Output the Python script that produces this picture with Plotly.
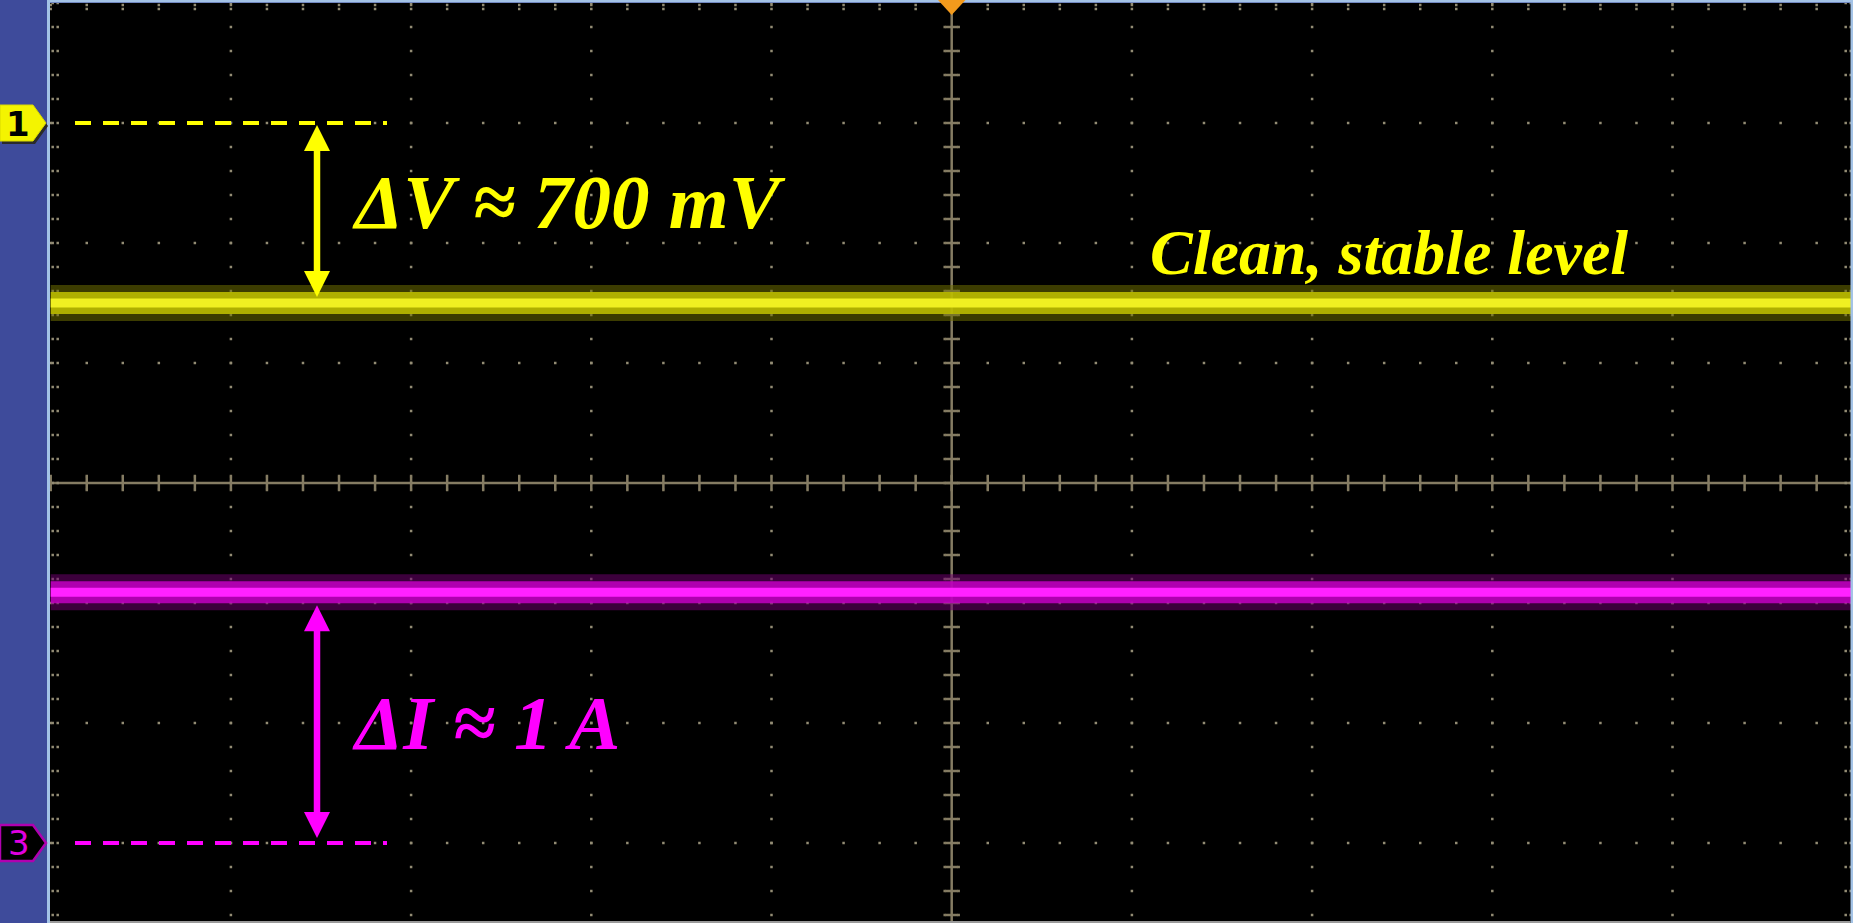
import numpy as np
import plotly.graph_objects as go

# ---------------- data (screen divisions, 8 x 10 graticule) ----------------
time_span_div = [-5.0, 5.0]          # horizontal extent of the acquisition
ch1_ground_div = 3.0                 # CH1 reference marker (dashed yellow)
ch1_level_div = [1.5, 1.5]           # CH1 voltage trace
ch3_ground_div = -3.0                # CH3 reference marker (dashed magenta)
ch3_level_div = [-0.91, -0.91]       # CH3 current trace
label_dv = "ΔV ≈ 700 mV"
label_di = "ΔI ≈ 1 A"
label_note = "Clean, stable level"
channel_tags = ["1", "3"]

# ---------------- geometry / style ----------------
W, H = 1853, 923
PX_X = 180.2          # px per horizontal division
PX_Y = 120.0          # px per vertical division
X0_PX, X1_PX = 50.0, 1853.0
Y_TOP_PX = 3.0
YR = [4.0 - (H - Y_TOP_PX) / PX_Y, 4.0]
XR = [-5.0 - 0.7 / PX_X, 5.0 + 0.3 / PX_X]

YEL = "#ffff00"
MAG = "#ff00ff"
GRID = "#938c74"
AXC = "#857c63"


def px(xp):
    return xp / W


def py(yp):
    return 1 - yp / H


fig = go.Figure()

# ---- graticule dots ----
xm = np.round(np.arange(-5, 5.0001, 0.2), 3)
ym = np.round(np.arange(-3.6, 4.0001, 0.2), 3)
gx, gy = [], []
for yl in [-3, -2, -1, 1, 2, 3]:
    gx += list(xm)
    gy += [yl] * len(xm)
for xl in [-4, -3, -2, -1, 1, 2, 3, 4]:
    gx += [xl] * len(ym)
    gy += list(ym)
# edge ticks
for off in (2, 7):
    gx += [-5 + off / PX_X] * len(ym) + [5 - off / PX_X] * len(ym)
    gy += list(ym) + list(ym)
for off in (2, 6):
    gx += list(xm)
    gy += [4 - off / PX_Y] * len(xm)
fig.add_trace(go.Scatter(x=gx, y=gy, mode="markers",
                         marker=dict(symbol="square", size=2.5, color=GRID, line=dict(width=0)),
                         hoverinfo="skip"))

# ---- centre crosshair ----
fig.add_shape(type="line", x0=XR[0], x1=XR[1], y0=0, y1=0, line=dict(color=AXC, width=2.5), layer="below")
fig.add_shape(type="line", x0=0, x1=0, y0=YR[0], y1=YR[1], line=dict(color=AXC, width=2.5), layer="below")
fig.add_trace(go.Scatter(x=xm, y=[0] * len(xm), mode="markers",
                         marker=dict(symbol="line-ns", size=9, line=dict(color=AXC, width=2.5)),
                         hoverinfo="skip"))
fig.add_trace(go.Scatter(x=list(xm) + list(xm), y=[7 / PX_Y] * len(xm) + [-7 / PX_Y] * len(xm),
                         mode="markers", marker=dict(symbol="square", size=2.5, color=AXC),
                         hoverinfo="skip"))
fig.add_trace(go.Scatter(x=[0] * len(ym), y=ym, mode="markers",
                         marker=dict(symbol="line-ew", size=9, line=dict(color=AXC, width=2.5)),
                         hoverinfo="skip"))
fig.add_trace(go.Scatter(x=[7 / PX_X] * len(ym) + [-7 / PX_X] * len(ym), y=list(ym) + list(ym),
                         mode="markers", marker=dict(symbol="square", size=2.5, color=AXC),
                         hoverinfo="skip"))

# ---- traces (thick phosphor bands) ----
for lvl, cols in ((ch1_level_div, ["rgba(110,110,0,0.55)", "rgba(195,195,0,0.85)", "#f0f022"]),
                  (ch3_level_div, ["rgba(110,0,110,0.55)", "rgba(195,0,195,0.85)", "#ff22ff"])):
    for w, c in zip([36, 22, 9], cols):
        fig.add_trace(go.Scatter(x=time_span_div, y=lvl, mode="lines",
                                 line=dict(color=c, width=w), hoverinfo="skip"))

# ---- dashed reference lines ----
dash_x = [-5 + (75 - X0_PX - 0.7) / PX_X, -5 + (387 - X0_PX - 0.7) / PX_X]
fig.add_trace(go.Scatter(x=dash_x, y=[ch1_ground_div] * 2, mode="lines",
                         line=dict(color=YEL, width=4, dash="16px,12px"), hoverinfo="skip"))
fig.add_trace(go.Scatter(x=dash_x, y=[ch3_ground_div] * 2, mode="lines",
                         line=dict(color=MAG, width=4, dash="16px,12px"), hoverinfo="skip"))


# ---- double arrows ----
def double_arrow(xa, y_top, y_bot, color, shaft=6.5, head_w=26, head_l=26):
    hw = head_w / 2 / PX_X
    hl = head_l / PX_Y
    fig.add_shape(type="line", x0=xa, x1=xa, y0=y_top - hl * 0.9, y1=y_bot + hl * 0.9,
                  line=dict(color=color, width=shaft))
    fig.add_shape(type="path",
                  path=f"M {xa} {y_top} L {xa + hw} {y_top - hl} L {xa - hw} {y_top - hl} Z",
                  fillcolor=color, line=dict(width=0))
    fig.add_shape(type="path",
                  path=f"M {xa} {y_bot} L {xa + hw} {y_bot + hl} L {xa - hw} {y_bot + hl} Z",
                  fillcolor=color, line=dict(width=0))


arrow_x = (317 - 951.7) / PX_X
double_arrow(arrow_x, ch1_ground_div - 2 / PX_Y, ch1_level_div[0] + 6 / PX_Y, YEL)
double_arrow(arrow_x, ch3_level_div[0] - 13 / PX_Y, ch3_ground_div + 5 / PX_Y, MAG)

# ---- labels ----
tfont = dict(family="Liberation Serif, Times New Roman, serif", weight="bold", style="italic")
fig.add_annotation(x=(569 - 951.7) / PX_X, y=(483 - 202) / PX_Y, text=label_dv, showarrow=False,
                   xanchor="center", yanchor="middle", font=dict(size=77, color=YEL, **tfont))
fig.add_annotation(x=(486 - 951.7) / PX_X, y=(483 - 723) / PX_Y, text=label_di, showarrow=False,
                   xanchor="center", yanchor="middle", font=dict(size=77, color=MAG, **tfont))
fig.add_annotation(x=(1389 - 951.7) / PX_X, y=(483 - 252) / PX_Y, text=label_note, showarrow=False,
                   xanchor="center", yanchor="middle", font=dict(size=64, color=YEL, **tfont))

# ---- frame, channel tags, trigger marker (paper coords) ----
BORDER = "#a4c3e6"
fig.add_shape(type="rect", xref="paper", yref="paper", x0=px(0), x1=px(47), y0=0, y1=1,
              fillcolor="#3e4b9b", line=dict(width=0))
fig.add_shape(type="rect", xref="paper", yref="paper", x0=px(47), x1=px(50), y0=0, y1=1,
              fillcolor=BORDER, line=dict(width=0))
fig.add_shape(type="rect", xref="paper", yref="paper", x0=px(47), x1=1, y0=py(2.5), y1=1,
              fillcolor=BORDER, line=dict(width=0))
fig.add_shape(type="rect", xref="paper", yref="paper", x0=px(1850.5), x1=1, y0=0, y1=1,
              fillcolor=BORDER, line=dict(width=0))
fig.add_shape(type="rect", xref="paper", yref="paper", x0=px(50), x1=px(1850.5), y0=0, y1=py(921),
              fillcolor="#9a9a9a", line=dict(width=0))


def tag_path(y_c, dx=0, dy=0):
    pts = [(0, y_c - 18), (33, y_c - 18), (46, y_c), (33, y_c + 18), (0, y_c + 18)]
    return "M " + " L ".join(f"{px(a + dx)} {py(b + dy)}" for a, b in pts) + " Z"


y1_px = 483 - ch1_ground_div * PX_Y
y3_px = 483 - ch3_ground_div * PX_Y
fig.add_shape(type="path", xref="paper", yref="paper", path=tag_path(y1_px, 2, 3),
              fillcolor="#2a2a2a", line=dict(width=0))
fig.add_shape(type="path", xref="paper", yref="paper", path=tag_path(y1_px),
              fillcolor="#f4f400", line=dict(color="#d8d800", width=1))
fig.add_shape(type="path", xref="paper", yref="paper", path=tag_path(y3_px),
              fillcolor="#000000", line=dict(color="#b000b0", width=2.5))
fig.add_annotation(xref="paper", yref="paper", x=px(18), y=py(y1_px + 1), text=channel_tags[0],
                   xanchor="center", yanchor="middle",
                   showarrow=False, font=dict(family="DejaVu Sans", size=34, color="#000000", weight="bold"))
fig.add_annotation(xref="paper", yref="paper", x=px(19), y=py(y3_px), text=channel_tags[1],
                   xanchor="center", yanchor="middle",
                   showarrow=False, font=dict(family="DejaVu Sans", size=34, color="#e000e0"))

fig.add_shape(type="path", xref="paper", yref="paper",
              path=f"M {px(938)} {py(0)} L {px(965.5)} {py(0)} L {px(951.7)} {py(15)} Z",
              fillcolor="#f39a1c", line=dict(width=0))

fig.update_layout(
    width=W, height=H,
    margin=dict(l=0, r=0, t=0, b=0),
    paper_bgcolor="#3e4b9b",
    plot_bgcolor="#000000",
    showlegend=False,
    hovermode=False,
    xaxis=dict(domain=[X0_PX / W, 1.0], range=XR, showgrid=False, zeroline=False,
               showticklabels=False, ticks="", fixedrange=True),
    yaxis=dict(domain=[0.0, 1 - Y_TOP_PX / H], range=YR, showgrid=False, zeroline=False,
               showticklabels=False, ticks="", fixedrange=True),
)

fig.write_html("out.html", config={"displayModeBar": False},
               post_script="document.body.style.margin='0';document.body.style.overflow='hidden';")
